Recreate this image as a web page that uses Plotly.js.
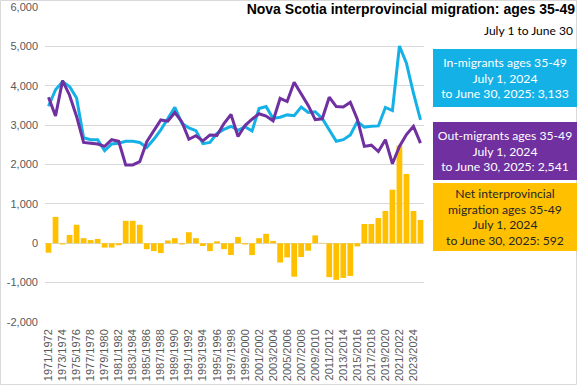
<!DOCTYPE html>
<html>
<head>
<meta charset="utf-8">
<script src="https://cdn.plot.ly/plotly-3.0.1.min.js"></script>
<style>
html, body { margin: 0; padding: 0; background: #fff; }
#chart { width: 577px; height: 385px; }
</style>
</head>
<body>
<div id="chart"></div>
<script>
const years = [
  "1971/1972","1972/1973","1973/1974","1974/1975","1975/1976","1976/1977","1977/1978","1978/1979",
  "1979/1980","1980/1981","1981/1982","1982/1983","1983/1984","1984/1985","1985/1986","1986/1987",
  "1987/1988","1988/1989","1989/1990","1990/1991","1991/1992","1992/1993","1993/1994","1994/1995",
  "1995/1996","1996/1997","1997/1998","1998/1999","1999/2000","2000/2001","2001/2002","2002/2003",
  "2003/2004","2004/2005","2005/2006","2006/2007","2007/2008","2008/2009","2009/2010","2010/2011",
  "2011/2012","2012/2013","2013/2014","2014/2015","2015/2016","2016/2017","2017/2018","2018/2019",
  "2019/2020","2020/2021","2021/2022","2022/2023","2023/2024","2024/2025"
];

const inMigrants = [
  3480, 3900, 4100, 3980, 3690, 2680, 2630, 2630, 2350, 2520,
  2540, 2590, 2590, 2560, 2430, 2640, 2880, 3170, 3450, 3050,
  2930, 2860, 2530, 2560, 2790, 2890, 2970, 2870, 2960, 2850,
  3420, 3470, 3170, 3200, 3260, 3240, 3460, 3320, 3340, 3170,
  2880, 2590, 2630, 2750, 3090, 2950, 2970, 2980, 3450, 3370,
  5010, 4570, 3810, 3133
];

const outMigrants = [
  3710, 3230, 4130, 3760, 3220, 2560, 2540, 2520, 2460, 2630,
  2590, 1990, 1990, 2070, 2580, 2840, 3130, 3100, 3320, 3080,
  2640, 2730, 2600, 2750, 2740, 3040, 3270, 2710, 2990, 3150,
  3290, 3230, 3110, 3680, 3600, 4090, 3810, 3500, 3140, 3160,
  3710, 3470, 3460, 3580, 3150, 2460, 2490, 2330, 2630, 2020,
  2460, 2760, 2970, 2541
];

const netMigration = [
  -240, 670, -30, 210, 470, 130, 80, 110, -110, -110,
  -50, 570, 570, 470, -150, -200, -250, 70, 130, -30,
  280, 130, -70, -200, 50, -150, -300, 160, -30, -300,
  130, 240, 60, -490, -360, -850, -350, -190, 200, 10,
  -860, -930, -880, -830, -80, 490, 490, 640, 820, 1360,
  2480, 1760, 820, 592
];

const yTickVals = [-2000, -1000, 0, 1000, 2000, 3000, 4000, 5000, 6000];
const yTickText = ["-2,000", "-1,000", "0", "1,000", "2,000", "3,000", "4,000", "5,000", "6,000"];

const xTickVals = years.filter((y, i) => i % 2 === 0);

const titleText = "Nova Scotia interprovincial migration: ages 35-49";
const subtitleText = "July 1 to June 30";
const inLabel = "In-migrants ages 35-49<br>July 1, 2024<br>to June 30, 2025: 3,133";
const outLabel = "Out-migrants ages 35-49<br>July 1, 2024<br>to June 30, 2025: 2,541";
const netLabel = "Net interprovincial<br>migration ages 35-49<br>July 1, 2024<br>to June 30, 2025: 592";

const cyan = "#14B1E7";
const purple = "#7030A0";
const gold = "#FFC000";

const traces = [
  { type: "bar", x: years, y: netMigration, marker: { color: gold }, hoverinfo: "x+y" },
  { type: "scatter", mode: "lines", x: years, y: inMigrants, line: { color: cyan, width: 3 } },
  { type: "scatter", mode: "lines", x: years, y: outMigrants, line: { color: purple, width: 3 } }
];

const boxFont = { family: "Lato, 'Open Sans', sans-serif", size: 12.2 };

const layout = {
  width: 577,
  height: 385,
  margin: { l: 45, r: 153, t: 7, b: 63, pad: 0 },
  paper_bgcolor: "#ffffff",
  plot_bgcolor: "#ffffff",
  showlegend: false,
  bargap: 0.18,
  font: { family: "'Liberation Sans', Arial, sans-serif", size: 11, color: "#595959" },
  title: {
    text: "<b>" + titleText + "</b>",
    font: { family: "'Liberation Sans', Arial, sans-serif", size: 14, color: "#000000" },
    xref: "container", yref: "container",
    x: 575 / 577, xanchor: "right",
    y: 1 - 4 / 385, yanchor: "top"
  },
  xaxis: {
    type: "category",
    range: [-0.5, 53.5],
    tickmode: "array",
    tickvals: xTickVals,
    ticktext: xTickVals,
    tickangle: -90,
    showgrid: false,
    zeroline: false,
    showline: false,
    ticks: "",
    ticklabelstandoff: 4,
    tickfont: { family: "'Liberation Sans', Arial, sans-serif", size: 11, color: "#595959" },
    fixedrange: true
  },
  yaxis: {
    range: [-2000, 6000],
    tickmode: "array",
    tickvals: yTickVals,
    ticktext: yTickText,
    showgrid: true,
    gridcolor: "#D9D9D9",
    gridwidth: 1,
    zeroline: false,
    showline: false,
    ticks: "",
    ticklabelstandoff: 6,
    tickfont: { family: "'Liberation Sans', Arial, sans-serif", size: 11, color: "#595959" },
    fixedrange: true
  },
  shapes: [
    {
      type: "rect", xref: "paper", yref: "paper",
      x0: (0.5 - 45) / 379, x1: (576.5 - 45) / 379,
      y0: (322 - 384.5) / 315, y1: (322 - 0.5) / 315,
      line: { color: "#D9D9D9", width: 1 }, fillcolor: "rgba(0,0,0,0)"
    }
  ],
  annotations: [
    {
      text: subtitleText, xref: "paper", yref: "paper",
      x: (575 - 45) / 379, xanchor: "right",
      y: (322 - 31) / 315, yanchor: "middle",
      showarrow: false,
      font: { family: "Lato, 'Open Sans', sans-serif", size: 12, color: "#000000" }
    },
    {
      text: inLabel, xref: "paper", yref: "paper",
      x: (433 - 45) / 379, xanchor: "left",
      y: (322 - 49) / 315, yanchor: "top",
      width: 144, height: 58, bgcolor: cyan, borderpad: 0, borderwidth: 0,
      align: "center", valign: "middle", showarrow: false,
      font: Object.assign({ color: "#ffffff" }, boxFont)
    },
    {
      text: outLabel, xref: "paper", yref: "paper",
      x: (433 - 45) / 379, xanchor: "left",
      y: (322 - 122) / 315, yanchor: "top",
      width: 144, height: 58, bgcolor: purple, borderpad: 0, borderwidth: 0,
      align: "center", valign: "middle", showarrow: false,
      font: Object.assign({ color: "#ffffff" }, boxFont)
    },
    {
      text: netLabel, xref: "paper", yref: "paper",
      x: (433 - 45) / 379, xanchor: "left",
      y: (322 - 183) / 315, yanchor: "top",
      width: 144, height: 68, bgcolor: gold, borderpad: 0, borderwidth: 0,
      align: "center", valign: "middle", showarrow: false,
      font: Object.assign({ color: "#262626" }, boxFont)
    }
  ]
};

Plotly.newPlot("chart", traces, layout, { staticPlot: true, displayModeBar: false });
</script>
</body>
</html>
